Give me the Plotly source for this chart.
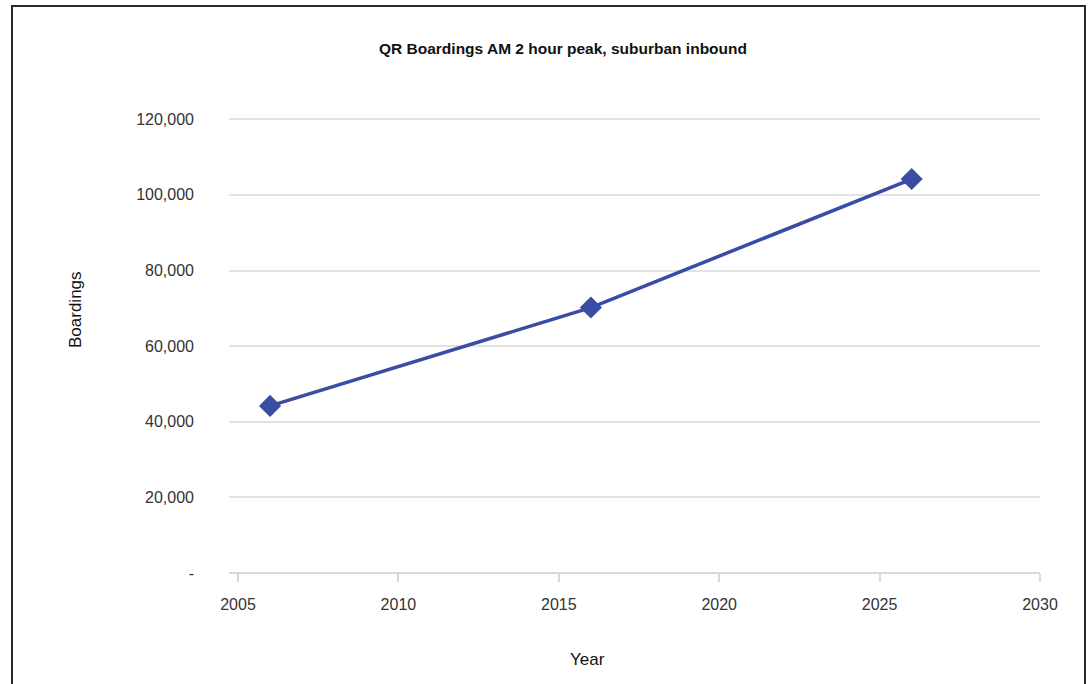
import plotly.graph_objects as go

years = [2006, 2016, 2026]
boardings = [44200, 70200, 104200]

y_tickvals = [0, 20000, 40000, 60000, 80000, 100000, 120000]
y_ticktext = ["-", "20,000", "40,000", "60,000", "80,000", "100,000", "120,000"]
x_tickvals = [2005, 2010, 2015, 2020, 2025, 2030]
x_ticktext = ["2005", "2010", "2015", "2020", "2025", "2030"]

title_text = "QR Boardings AM 2 hour peak, suburban inbound"
x_title = "Year"
y_title = "Boardings"

W, H = 1091, 684
L, R, T, B = 229, 51, 117, 111
pw, ph = W - L - R, H - T - B

def px_x(p):
    return (p - L) / pw

def px_y(p):
    return (H - B - p) / ph

font_family = "Liberation Sans, Arial, sans-serif"

fig = go.Figure()
fig.add_trace(go.Scatter(
    x=years, y=boardings, mode="lines+markers",
    line=dict(color="#3a4ca3", width=3.5),
    marker=dict(symbol="diamond", size=17, color="#3a4ca3"),
    showlegend=False, hoverinfo="x+y",
))

fig.update_layout(
    width=W, height=H,
    margin=dict(l=L, r=R, t=T, b=B, pad=0),
    paper_bgcolor="white", plot_bgcolor="white",
    font=dict(family=font_family, size=16, color="#333333"),
    xaxis=dict(
        range=[2004.72, 2030], tickvals=x_tickvals, ticktext=x_ticktext,
        showgrid=False, zeroline=False, showline=False,
        ticks="outside", ticklen=8, tickcolor="#d9d9d9", tickwidth=1.5,
        ticklabelstandoff=9, tickfont=dict(size=16, color="#333333"),
    ),
    yaxis=dict(
        range=[0, 120600], tickvals=y_tickvals, ticktext=y_ticktext,
        showgrid=True, gridcolor="#e3e3e3", gridwidth=1.5,
        zeroline=True, zerolinecolor="#d9d9d9", zerolinewidth=1.5,
        showline=False, ticks="", ticklabelstandoff=34,
        tickfont=dict(size=16, color="#333333"),
    ),
    annotations=[
        dict(text=f"<b>{title_text}</b>", x=px_x(563), y=px_y(49), xref="paper", yref="paper",
             showarrow=False, xanchor="center", yanchor="middle",
             font=dict(size=15.5, color="#111111", family=font_family)),
        dict(text=x_title, x=px_x(587), y=px_y(659), xref="paper", yref="paper",
             showarrow=False, xanchor="center", yanchor="middle",
             font=dict(size=17, color="#111111", family=font_family)),
        dict(text=y_title, x=px_x(75), y=px_y(310), xref="paper", yref="paper",
             showarrow=False, xanchor="center", yanchor="middle", textangle=-90,
             font=dict(size=17, color="#111111", family=font_family)),
    ],
    shapes=[
        dict(type="rect", xref="paper", yref="paper",
             x0=px_x(12), x1=px_x(1085), y0=px_y(700), y1=px_y(6),
             line=dict(color="#2a2a2a", width=2), fillcolor="rgba(0,0,0,0)", layer="above"),
    ],
)

fig.write_html("out.html")
